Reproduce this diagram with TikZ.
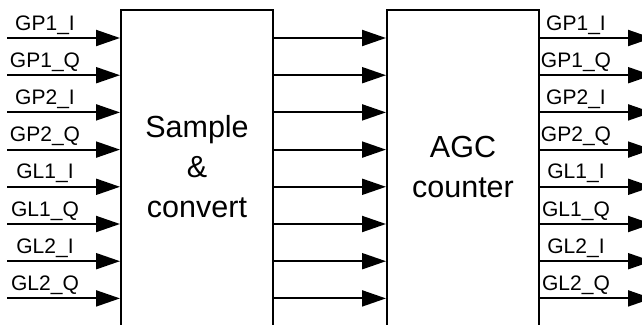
\documentclass[tikz,border=0pt]{standalone}
\usepackage{fontspec}
\setmainfont{Liberation Sans}
\usetikzlibrary{arrows.meta}
\begin{document}
\begin{tikzpicture}[x=1pt,y=-1pt,
  sig/.style={line width=2pt,-{Triangle[length=24pt,width=16pt]}},
  blk/.style={draw,line width=2pt,rectangle,inner sep=0pt},
  boxtext/.style={font=\fontsize{30.5}{40}\selectfont,align=center},
  lbl/.style={font=\fontsize{21}{24}\selectfont,anchor=base}]
\useasboundingbox (0,0) rectangle (642,324);
\clip (0,0) rectangle (642,324);
\node[blk,minimum width=152pt,minimum height=340pt] (b1) at (197,180) {};
\node[blk,minimum width=152pt,minimum height=340pt] (b2) at (463,180) {};
\node[boxtext] (t1) at (197,167) {Sample\\\&\\convert};
\node[boxtext] (t2) at (463,167) {AGC\\counter};
\foreach \n/\yy/\lab in {0/38/GP1\_I,1/75.2/GP1\_Q,2/112.4/GP2\_I,3/149.6/GP2\_Q,4/186.8/GL1\_I,5/224/GL1\_Q,6/261.2/GL2\_I,7/298.4/GL2\_Q}{
  \coordinate (in\n) at (7,\yy);
  \coordinate (out\n) at (652,\yy);
  \draw[sig] (in\n) -- (in\n -| b1.west);
  \draw[sig] (in\n -| b1.east) -- (in\n -| b2.west);
  \draw[sig] (in\n -| b2.east) -- (out\n);
  \node[lbl] (l\n) at (45,\yy-8) {\lab};
  \node[lbl] (r\n) at (576,\yy-8) {\lab};
}
\end{tikzpicture}
\end{document}
